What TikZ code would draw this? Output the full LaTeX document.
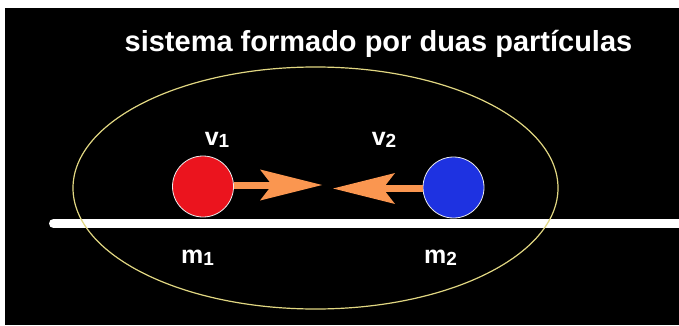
\documentclass[tikz,border=0pt]{standalone}
\usepackage{fontspec}
\setmainfont{Liberation Sans}
\usetikzlibrary{arrows.meta,shapes.geometric}
\definecolor{arroworange}{RGB}{250,150,80}
\definecolor{ellcol}{RGB}{225,215,130}
\definecolor{ballred}{RGB}{235,20,30}
\definecolor{ballblue}{RGB}{30,50,225}
\newcommand{\lbl}[2]{{\fontsize{25}{25}\selectfont\bfseries #1}{\fontsize{19}{19}\selectfont\bfseries\raisebox{-2pt}{#2}}}
\begin{document}
\begin{tikzpicture}[x=1pt,y=-1pt,
  ball/.style={circle,minimum size=61pt,inner sep=0pt,draw=white!85!gray,line width=0.8pt},
  label/.style={text=white,inner sep=0pt,anchor=base},
  vel/.style={draw=arroworange,line width=7pt,
    -{Stealth[length=62pt,width=31pt,inset=12pt,line width=0pt]}}]
\useasboundingbox (0,0) rectangle (679,326);
\fill[white] (0,0) rectangle (679,326);
\fill[black] (5,8) rectangle (679,325);
% title
\node[label] (title) at (378.5,52) {\fontsize{29}{30}\selectfont\bfseries sistema formado por duas partículas};
% ground line
\coordinate (lineL) at (53.5,223.5);
\coordinate (lineR) at (685,223.5);
\draw[white,line width=9pt,line cap=round] (lineL) -- (lineR);
% system ellipse
\node[draw=ellcol,line width=1.2pt,ellipse,minimum width=485pt,minimum height=242pt,inner sep=0pt] (sys) at (315.5,188) {};
% particles
\node[ball,fill=ballred] (p1) at (203,186.5) {};
\node[ball,fill=ballblue] (p2) at (453.5,187.5) {};
% velocity arrows
\coordinate (tip1) at (322,185);
\coordinate (tip2) at (333,188.5);
\draw[vel] (p1.east |- tip1) -- (tip1);
\draw[vel] (p2.west |- tip2) -- (tip2);
% labels
\node[label] (v1) at (217,145) {\lbl{v}{1}};
\node[label] (v2) at (384,145) {\lbl{v}{2}};
\node[label] (m1) at (197.5,263) {\lbl{m}{1}};
\node[label] (m2) at (440.5,263) {\lbl{m}{2}};
\end{tikzpicture}
\end{document}
